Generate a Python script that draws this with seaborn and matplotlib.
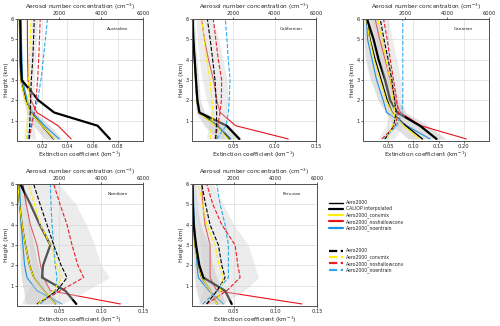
import matplotlib
matplotlib.use("Agg")
import matplotlib.pyplot as plt
from matplotlib.lines import Line2D
import seaborn as sns

sns.set_theme(style="white")
plt.rcParams['font.family'] = ['DejaVu Sans']

# ---------------- data ----------------
heights = [0.1, 0.75, 1.4, 2.0, 3.0, 4.0, 5.0, 6.0]
regions = ["Australian", "Californian", "Canarian", "Namibian", "Peruvian"]

# Australian: extinction (km-1)
aus_caliop = [0.0737, 0.064, 0.0295, 0.017, 0.0037, 0.003, 0.0028, 0.0026]
aus_aero = [0.029, 0.020, 0.011, 0.007, 0.003, 0.0025, 0.0022, 0.002]
aus_convmix = [0.0295, 0.020, 0.0105, 0.0065, 0.0028, 0.0024, 0.002, 0.0018]
aus_noshallow = [0.043, 0.0326, 0.0158, 0.011, 0.0088, 0.0084, 0.0083, 0.0082]
aus_noentrain = [0.0334, 0.022, 0.0124, 0.008, 0.0045, 0.004, 0.0035, 0.003]
aus_ext_lo = [0.022, 0.013, 0.008, 0.005, 0.002, 0.0018, 0.0015, 0.0012]
aus_ext_hi = [0.036, 0.026, 0.015, 0.009, 0.004, 0.0035, 0.003, 0.003]
# Australian: number concentration (cm-3)
aus_n_aero = [580, 600, 630, 650, 680, 750, 790, 820]
aus_n_convmix = [470, 480, 500, 520, 550, 590, 630, 670]
aus_n_noshallow = [580, 700, 820, 900, 980, 1030, 1070, 1105]
aus_n_noentrain = [500, 650, 820, 980, 1140, 1250, 1350, 1450]
aus_n_lo = [300, 400, 480, 520, 560, 600, 640, 680]
aus_n_hi = [900, 800, 760, 780, 820, 880, 930, 980]

# Californian
cal_caliop = [0.0573, 0.042, 0.0089, 0.0065, 0.0048, 0.0032, 0.0016, 0.0008]
cal_aero = [0.045, 0.030, 0.0085, 0.006, 0.0045, 0.003, 0.0015, 0.001]
cal_convmix = [0.044, 0.029, 0.0080, 0.0058, 0.0043, 0.0028, 0.0014, 0.001]
cal_noshallow = [0.1165, 0.053, 0.034, 0.030, 0.026, 0.020, 0.015, 0.0117]
cal_noentrain = [0.047, 0.032, 0.0097, 0.007, 0.005, 0.0035, 0.002, 0.0015]
cal_ext_lo = [0.030, 0.015, 0.005, 0.004, 0.003, 0.002, 0.001, 0.0005]
cal_ext_hi = [0.060, 0.045, 0.015, 0.010, 0.008, 0.006, 0.004, 0.003]
cal_n_aero = [1150, 1180, 1194, 1170, 1113, 1000, 880, 742]
cal_n_convmix = [870, 950, 1032, 960, 871, 710, 590, 468]
cal_n_noshallow = [1113, 1250, 1355, 1420, 1435, 1274, 1150, 1032]
cal_n_noentrain = [1194, 1650, 1758, 1800, 1839, 1758, 1690, 1613]
cal_n_lo = [700, 800, 900, 700, 500, 350, 250, 200]
cal_n_hi = [1500, 1600, 1700, 1750, 1700, 1500, 1300, 1000]

# Canarian
can_caliop = [0.146, 0.113, 0.068, 0.054, 0.044, 0.031, 0.021, 0.008]
can_aero = [0.118, 0.085, 0.058, 0.048, 0.036, 0.024, 0.014, 0.007]
can_convmix = [0.113, 0.080, 0.057, 0.046, 0.034, 0.022, 0.013, 0.007]
can_noshallow = [0.205, 0.115, 0.074, 0.064, 0.054, 0.044, 0.033, 0.024]
can_noentrain = [0.133, 0.087, 0.047, 0.040, 0.027, 0.018, 0.009, 0.007]
can_ext_lo = [0.090, 0.060, 0.045, 0.030, 0.015, 0.005, 0.002, 0.001]
can_ext_hi = [0.165, 0.130, 0.085, 0.070, 0.060, 0.050, 0.040, 0.030]
can_n_aero = [1058, 1450, 1580, 1500, 1374, 1200, 1000, 821]
can_n_convmix = [1137, 1400, 1532, 1430, 1295, 1100, 900, 695]
can_n_noshallow = [900, 1532, 1690, 1600, 1453, 1300, 1150, 979]
can_n_noentrain = [1000, 1600, 1850, 1895, 1895, 1895, 1895, 1895]
can_n_lo = [700, 1100, 1300, 1200, 1000, 800, 600, 400]
can_n_hi = [1500, 1900, 2000, 1900, 1800, 1600, 1400, 1200]

# Namibian
nam_caliop = [0.0706, 0.0575, 0.0298, 0.031, 0.0397, 0.027, 0.016, 0.004]
nam_aero = [0.046, 0.032, 0.020, 0.015, 0.010, 0.006, 0.003, 0.001]
nam_convmix = [0.0456, 0.0317, 0.0198, 0.015, 0.0099, 0.006, 0.003, 0.001]
nam_noshallow = [0.123, 0.0397, 0.0317, 0.028, 0.0238, 0.0159, 0.011, 0.007]
nam_noentrain = [0.0536, 0.0238, 0.0119, 0.009, 0.007, 0.005, 0.004, 0.003]
nam_ext_lo = [0.010, 0.008, 0.005, 0.004, 0.003, 0.002, 0.001, 0.0]
nam_ext_hi = [0.050, 0.040, 0.030, 0.025, 0.020, 0.015, 0.010, 0.008]
nam_n_aero = [952, 1905, 2381, 2100, 1746, 1428, 1100, 794]
nam_n_convmix = [1000, 1746, 2143, 1900, 1587, 1111, 830, 555]
nam_n_noshallow = [952, 2063, 3174, 2900, 2619, 2381, 2050, 1746]
nam_n_noentrain = [1111, 1825, 1905, 1820, 1746, 1666, 1620, 1587]
nam_n_lo = [200, 500, 800, 700, 600, 500, 400, 300]
nam_n_hi = [2200, 3300, 4400, 4000, 3700, 3300, 2800, 2000]

# Peruvian
per_caliop = [0.0477, 0.0397, 0.0136, 0.0088, 0.0048, 0.002, 0.001, 0.0005]
per_aero = [0.030, 0.022, 0.0116, 0.008, 0.0036, 0.002, 0.001, 0.0004]
per_convmix = [0.0297, 0.022, 0.0116, 0.008, 0.0036, 0.002, 0.001, 0.0004]
per_noshallow = [0.132, 0.0297, 0.0217, 0.0217, 0.0217, 0.0156, 0.013, 0.0116]
per_noentrain = [0.0377, 0.020, 0.0076, 0.006, 0.0048, 0.003, 0.002, 0.0016]
per_ext_lo = [0.010, 0.005, 0.003, 0.002, 0.001, 0.0, 0.0, 0.0]
per_ext_hi = [0.040, 0.035, 0.030, 0.025, 0.020, 0.010, 0.006, 0.004]
per_n_aero = [700, 1200, 1588, 1430, 1267, 866, 650, 465]
per_n_convmix = [1187, 1350, 1508, 1300, 1107, 706, 500, 305]
per_n_noshallow = [706, 1668, 2310, 2200, 2069, 1428, 1000, 706]
per_n_noentrain = [513, 1200, 1748, 1748, 1748, 1588, 1350, 1187]
per_n_lo = [300, 500, 600, 500, 400, 300, 200, 150]
per_n_hi = [1500, 2500, 3200, 3000, 2700, 2000, 1500, 1000]

ext_xlims = [(0, 0.1), (0, 0.15), (0, 0.25), (0, 0.15), (0, 0.15)]
ext_ticks = [[0.02, 0.04, 0.06, 0.08], [0.05, 0.10, 0.15], [0.05, 0.10, 0.15, 0.20],
             [0.05, 0.10, 0.15], [0.05, 0.10, 0.15]]
ext_ticklabels = [["0.02", "0.04", "0.06", "0.08"], ["0.05", "0.10", "0.15"],
                  ["0.05", "0.10", "0.15", "0.20"], ["0.05", "0.10", "0.15"], ["0.05", "0.10", "0.15"]]
conc_ticks = [2000, 4000, 6000]
height_ticks = [1, 2, 3, 4, 5, 6]

legend_solid = ["Aero2000", "CALIOP interpolated", "Aero2000_convmix",
                "Aero2000_noshallowconv", "Aero2000_noentrain"]
legend_dashed = ["Aero2000", "Aero2000_convmix", "Aero2000_noshallowconv", "Aero2000_noentrain"]

# ---------------- styling ----------------
C_BLACK = "black"
C_YEL = "#ffee00"
C_RED = "#e8141c"
C_BLUE = "#1e8fe0"
C_BLUE_D = "#2aaaf0"
C_RED_D = "#e8202a"
C_TEXT = "#262626"
LW = 0.8
LW_AERO = 1.0
LW_THICK = 1.6

ext_sets = [
    (aus_caliop, aus_aero, aus_convmix, aus_noshallow, aus_noentrain, aus_ext_lo, aus_ext_hi),
    (cal_caliop, cal_aero, cal_convmix, cal_noshallow, cal_noentrain, cal_ext_lo, cal_ext_hi),
    (can_caliop, can_aero, can_convmix, can_noshallow, can_noentrain, can_ext_lo, can_ext_hi),
    (nam_caliop, nam_aero, nam_convmix, nam_noshallow, nam_noentrain, nam_ext_lo, nam_ext_hi),
    (per_caliop, per_aero, per_convmix, per_noshallow, per_noentrain, per_ext_lo, per_ext_hi),
]
conc_sets = [
    (aus_n_aero, aus_n_convmix, aus_n_noshallow, aus_n_noentrain, aus_n_lo, aus_n_hi),
    (cal_n_aero, cal_n_convmix, cal_n_noshallow, cal_n_noentrain, cal_n_lo, cal_n_hi),
    (can_n_aero, can_n_convmix, can_n_noshallow, can_n_noentrain, can_n_lo, can_n_hi),
    (nam_n_aero, nam_n_convmix, nam_n_noshallow, nam_n_noentrain, nam_n_lo, nam_n_hi),
    (per_n_aero, per_n_convmix, per_n_noshallow, per_n_noentrain, per_n_lo, per_n_hi),
]

fig = plt.figure(figsize=(5.0, 3.26), dpi=100)

W, H = 500.0, 326.0
boxes = [  # left, right, top, bottom in pixels
    (17, 143, 19, 141),
    (192, 316, 19, 141),
    (363, 489, 19, 141),
    (17, 143, 184, 306),
    (192, 317, 184, 306),
]

FS_LAB = 4.15
FS_TICK = 3.7
FS_SMALL = 3.3


def prof(ax, x, color, lw, ls="-"):
    sns.lineplot(x=x, y=heights, orient="y", sort=False, estimator=None,
                 color=color, lw=lw, ls=ls, ax=ax, legend=False)


for i, name in enumerate(regions):
    l, r, t, b = boxes[i]
    ax = fig.add_axes([l / W, 1 - b / H, (r - l) / W, (b - t) / H])
    caliop, aero, convmix, noshallow, noentrain, elo, ehi = ext_sets[i]
    n_aero, n_convmix, n_noshallow, n_noentrain, nlo, nhi = conc_sets[i]

    ax.fill_betweenx(heights, elo, ehi, color="#c8c8c8", alpha=0.55, lw=0, zorder=1)
    prof(ax, noentrain, C_BLUE, LW)
    prof(ax, noshallow, C_RED, LW)
    prof(ax, aero, C_BLACK, LW_AERO)
    prof(ax, convmix, C_YEL, LW)
    prof(ax, caliop, C_BLACK, LW_THICK)

    ax.set_xlim(*ext_xlims[i])
    ax.set_ylim(0, 6)
    ax.set_xticks(ext_ticks[i])
    ax.set_xticklabels(ext_ticklabels[i])
    ax.set_yticks(height_ticks)
    ax.set_xlabel("Extinction coefficient (km$^{-1}$)", fontsize=FS_LAB, labelpad=0.5,
                  color=C_TEXT)
    ax.set_ylabel("Height (km)", fontsize=FS_LAB, labelpad=1, color=C_TEXT)
    ax.tick_params(labelsize=FS_TICK, length=1.5, width=0.5, pad=1, direction="out",
                   bottom=True, left=True, labelcolor=C_TEXT)
    ax.grid(True, color="#dcdcdc", lw=0.5)
    for s in ax.spines.values():
        s.set_color("#555555")
        s.set_linewidth(0.7)

    ax2 = ax.twiny()
    ax2.fill_betweenx(heights, nlo, nhi, color="#d0d0d0", alpha=0.4, lw=0, zorder=1)
    prof(ax2, n_noentrain, C_BLUE_D, LW, "--")
    prof(ax2, n_noshallow, C_RED_D, LW, "--")
    prof(ax2, n_aero, C_BLACK, LW, "--")
    prof(ax2, n_convmix, C_YEL, LW, "--")
    ax2.set_xlim(0, 6000)
    ax2.set_ylim(0, 6)
    ax2.set_xticks(conc_ticks)
    ax2.set_xlabel("Aerosol number concentration (cm$^{-3}$)", fontsize=FS_LAB,
                   labelpad=2.0, color=C_TEXT)
    ax2.set_ylabel("")
    ax2.tick_params(labelsize=FS_TICK, length=1.5, width=0.5, pad=0.5, top=True,
                    labelcolor=C_TEXT)
    ax2.grid(False)
    for s in ax2.spines.values():
        s.set_color("#555555")
        s.set_linewidth(0.7)

    ax.text(0.8, 0.92, name, transform=ax.transAxes, ha="center", va="center",
            fontsize=FS_SMALL - 0.2, color=C_TEXT)

# legends
solid_handles = [
    Line2D([], [], color=C_BLACK, lw=LW_AERO),
    Line2D([], [], color=C_BLACK, lw=LW_THICK),
    Line2D([], [], color=C_YEL, lw=LW_THICK),
    Line2D([], [], color=C_RED, lw=LW_THICK),
    Line2D([], [], color=C_BLUE, lw=LW_THICK),
]
dashed_handles = [
    Line2D([], [], color=C_BLACK, lw=LW_THICK, ls="--"),
    Line2D([], [], color=C_YEL, lw=LW_THICK, ls="--"),
    Line2D([], [], color=C_RED_D, lw=LW_THICK, ls="--"),
    Line2D([], [], color=C_BLUE_D, lw=LW_THICK, ls="--"),
]
leg_kw = dict(loc="upper left", frameon=False, fontsize=FS_SMALL, handlelength=3.0,
              labelspacing=0.22, handletextpad=0.6, borderpad=0.2, labelcolor=C_TEXT)
fig.legend(solid_handles, legend_solid, bbox_to_anchor=(0.652, 1 - 197 / H), **leg_kw)
fig.legend(dashed_handles, legend_dashed, bbox_to_anchor=(0.652, 1 - 245 / H), **leg_kw)

fig.savefig("out.png", dpi=100)
